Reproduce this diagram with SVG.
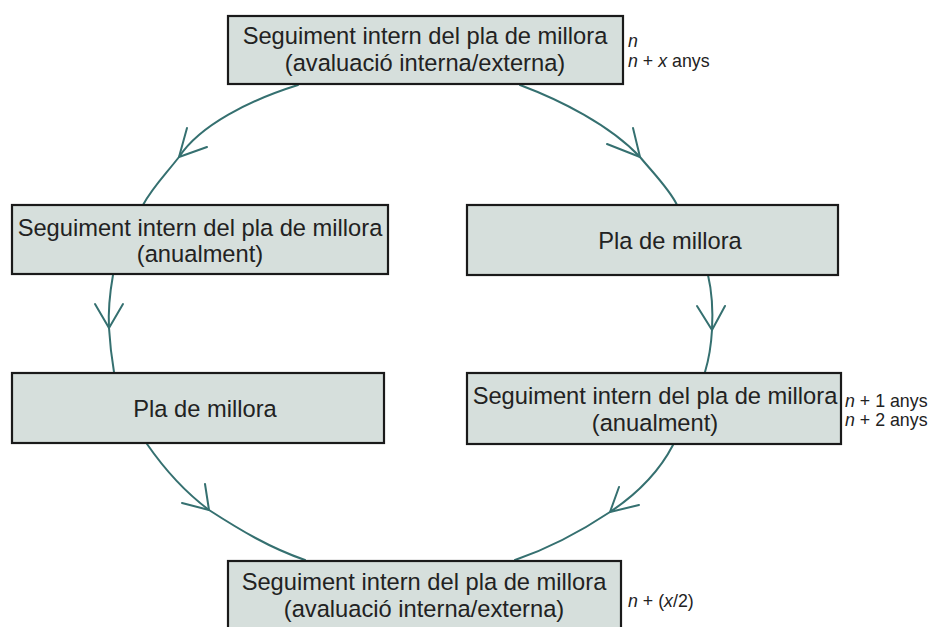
<svg xmlns="http://www.w3.org/2000/svg" width="934" height="627" viewBox="0 0 934 627">
<style>
.box{fill:#d6dfdc;stroke:#1a1a1a;stroke-width:2.2}
.t{font-family:"Liberation Sans",Arial,sans-serif;font-size:23.7px;fill:#222;text-anchor:middle}
.a{font-family:"Liberation Sans",Arial,sans-serif;font-size:17.8px;fill:#222}
.c{fill:none;stroke:#357070;stroke-width:2;stroke-linecap:round;stroke-linejoin:round}
</style>
<rect width="934" height="627" fill="#fff"/>
<g id="connectors">
<path class="c" d="M298,85 C250,100 200,125 179,157 C165,175 152,188 143,205"/>
<path class="c" d="M187,128 L179,157 L207,147"/>
<path class="c" d="M520,85 C560,100 610,125 640,157 C655,175 670,190 677,205"/>
<path class="c" d="M633,128 L640,157 L607,144"/>
<path class="c" d="M113,275 C110,292 108,310 109,328 C110,345 112,360 114,372"/>
<path class="c" d="M95,304 L109,328 L123,304"/>
<path class="c" d="M708,275 C712,292 713,312 712,330 C711,348 708,362 705,372"/>
<path class="c" d="M697,306 L712,330 L725,306"/>
<path class="c" d="M147,444 C165,470 185,492 209,510 C240,530 270,548 305,560"/>
<path class="c" d="M205,484 L209,510 L182,503"/>
<path class="c" d="M673,445 C660,470 640,492 610,512 C580,532 550,548 515,560"/>
<path class="c" d="M619,487 L610,512 L639,505"/>
</g>
<g id="node1">
<rect class="box" x="228" y="16" width="395" height="68"/>
<text class="t" x="425" y="44">Seguiment intern del pla de millora</text>
<text class="t" x="425" y="71">(avaluació interna/externa)</text>
</g>
<g id="node2">
<rect class="box" x="12" y="205" width="376" height="69"/>
<text class="t" x="200" y="236">Seguiment intern del pla de millora</text>
<text class="t" x="200" y="262">(anualment)</text>
</g>
<g id="node3">
<rect class="box" x="467" y="205" width="371" height="70"/>
<text class="t" x="670" y="249">Pla de millora</text>
</g>
<g id="node4">
<rect class="box" x="12" y="373" width="372" height="70"/>
<text class="t" x="205" y="417">Pla de millora</text>
</g>
<g id="node5">
<rect class="box" x="467" y="373" width="374" height="71"/>
<text class="t" x="655" y="404">Seguiment intern del pla de millora</text>
<text class="t" x="655" y="431">(anualment)</text>
</g>
<g id="node6">
<rect class="box" x="228" y="561" width="393" height="70"/>
<text class="t" x="424" y="590">Seguiment intern del pla de millora</text>
<text class="t" x="424" y="617">(avaluació interna/externa)</text>
</g>
<g id="annotations">
<text class="a" x="628" y="47"><tspan font-style="italic">n</tspan></text>
<text class="a" x="628" y="67"><tspan font-style="italic">n</tspan> + <tspan font-style="italic">x</tspan> anys</text>
<text class="a" x="845" y="407"><tspan font-style="italic">n</tspan> + 1 anys</text>
<text class="a" x="845" y="426"><tspan font-style="italic">n</tspan> + 2 anys</text>
<text class="a" x="628" y="607"><tspan font-style="italic">n</tspan> + (<tspan font-style="italic">x</tspan>/2)</text>
</g>
</svg>
